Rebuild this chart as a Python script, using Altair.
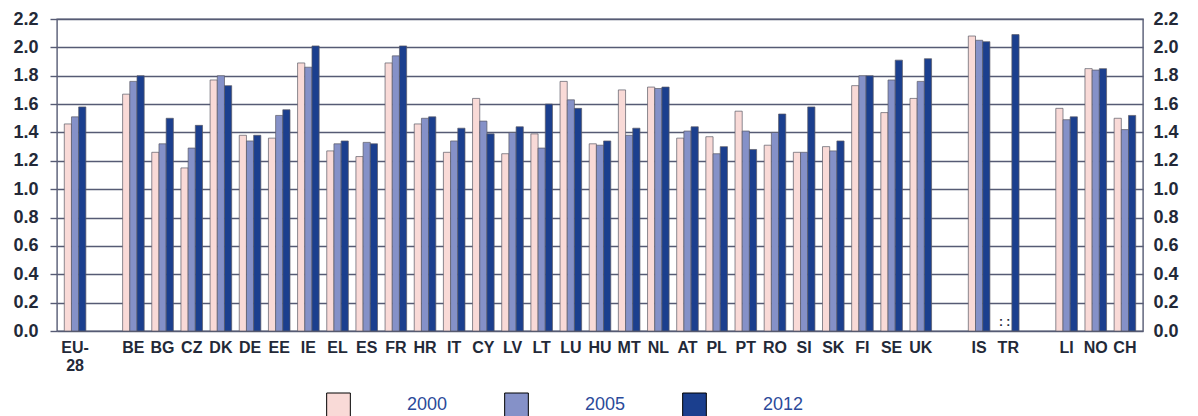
import altair as alt
import pandas as pd

countries = ["EU-28", "BE", "BG", "CZ", "DK", "DE", "EE", "IE", "EL", "ES", "FR", "HR",
             "IT", "CY", "LV", "LT", "LU", "HU", "MT", "NL", "AT", "PL", "PT", "RO",
             "SI", "SK", "FI", "SE", "UK", "IS", "TR", "LI", "NO", "CH"]

axis_order = ["EU-28", "_g1", "BE", "BG", "CZ", "DK", "DE", "EE", "IE", "EL", "ES", "FR", "HR",
              "IT", "CY", "LV", "LT", "LU", "HU", "MT", "NL", "AT", "PL", "PT", "RO",
              "SI", "SK", "FI", "SE", "UK", "_g2", "IS", "TR", "_g3", "LI", "NO", "CH"]

years = ["2000", "2005", "2012"]

v2000 = [1.46, 1.67, 1.26, 1.15, 1.77, 1.38, 1.36, 1.89, 1.27, 1.23, 1.89, 1.46,
         1.26, 1.64, 1.25, 1.39, 1.76, 1.32, 1.70, 1.72, 1.36, 1.37, 1.55, 1.31,
         1.26, 1.30, 1.73, 1.54, 1.64, 2.08, None, 1.57, 1.85, 1.50]
v2005 = [1.51, 1.76, 1.32, 1.29, 1.80, 1.34, 1.52, 1.86, 1.32, 1.33, 1.94, 1.50,
         1.34, 1.48, 1.40, 1.29, 1.63, 1.31, 1.38, 1.71, 1.41, 1.25, 1.41, 1.40,
         1.26, 1.27, 1.80, 1.77, 1.76, 2.05, None, 1.49, 1.84, 1.42]
v2012 = [1.58, 1.80, 1.50, 1.45, 1.73, 1.38, 1.56, 2.01, 1.34, 1.32, 2.01, 1.51,
         1.43, 1.39, 1.44, 1.60, 1.57, 1.34, 1.43, 1.72, 1.44, 1.30, 1.28, 1.53,
         1.58, 1.34, 1.80, 1.91, 1.92, 2.04, 2.09, 1.51, 1.85, 1.52]

colors = ["#f9dad7", "#8591c8", "#1b3f8e"]
y_ticks = [0.0, 0.2, 0.4, 0.6, 0.8, 1.0, 1.2, 1.4, 1.6, 1.8, 2.0, 2.2]

rows, missing = [], []
for series, yr in zip([v2000, v2005, v2012], years):
    for c, v in zip(countries, series):
        if v is None:
            missing.append({"country": c, "year": yr, "value": 0.0, "txt": ":"})
        else:
            rows.append({"country": c, "year": yr, "value": v})
df = pd.DataFrame(rows)
dfm = pd.DataFrame(missing)

grid_col = "#565b74"
lab_col = "#232938"

xscale = alt.Scale(domain=axis_order, paddingInner=0.26, paddingOuter=0.25)
yscale = alt.Scale(domain=[0, 2.2], nice=False)
offscale = alt.Scale(domain=years, paddingInner=0, paddingOuter=0)

x_axis = alt.Axis(
    title=None, domain=False, ticks=False, labelAngle=0,
    labelExpr="indexof(datum.value, '_') == 0 ? '' : (datum.value == 'EU-28' ? ['EU-', '28'] : datum.value)",
    labelFont="Liberation Sans", labelFontWeight=700, labelFontSize=16,
    labelColor=lab_col, labelPadding=8, labelLineHeight=18, labelBaseline="top",
)

left_axis = alt.Axis(
    title=None, values=y_ticks, format=".1f", grid=True, gridColor=grid_col,
    gridWidth=1.4, domain=False, tickSize=7, tickColor=grid_col, tickWidth=1.4,
    labelFont="Liberation Sans", labelFontWeight=700, labelFontSize=18,
    labelColor=lab_col, labelPadding=12,
)
right_axis = alt.Axis(
    title=None, values=y_ticks, format=".1f", grid=False, orient="right",
    domain=False, tickSize=0, labelAlign="left",
    labelFont="Liberation Sans", labelFontWeight=700, labelFontSize=18,
    labelColor=lab_col, labelPadding=10,
)

bars = alt.Chart(df).mark_bar(stroke="#5a5a66", strokeWidth=0.7).encode(
    x=alt.X("country:N", scale=xscale, axis=x_axis),
    xOffset=alt.XOffset("year:N", scale=offscale),
    y=alt.Y("value:Q", scale=yscale, axis=left_axis),
    color=alt.Color("year:N", scale=alt.Scale(domain=years, range=colors),
                    legend=alt.Legend(title=None)),
)

miss = alt.Chart(dfm).mark_text(fontSize=12, fontWeight="bold", color=lab_col, dy=-9,
                                font="Liberation Sans").encode(
    x=alt.X("country:N", scale=xscale, axis=x_axis),
    xOffset=alt.XOffset("year:N", scale=offscale),
    y=alt.Y("value:Q", scale=yscale, axis=None),
    text="txt:N",
)

right = alt.Chart(df).mark_point(opacity=0).encode(
    y=alt.Y("value:Q", scale=yscale, axis=right_axis),
)

chart = alt.layer(bars, miss, right).resolve_axis(y="independent").properties(
    width=1086, height=312,
    padding={"left": 49, "top": 11, "right": 47, "bottom": 100},
    autosize=alt.AutoSizeParams(type="none"),
    background="white",
).configure_view(
    stroke=grid_col, strokeWidth=1.4
).configure_legend(
    orient="none", legendX=269, legendY=373, direction="horizontal",
    symbolType="square", symbolSize=560, symbolStrokeColor="black",
    symbolStrokeWidth=1, symbolOpacity=1, labelOffset=56, columnPadding=54,
    labelFont="Liberation Sans", labelFontSize=18, labelColor="#2b4a9a",
    padding=0,
)

chart.save("out.html", embed_options={"renderer": "svg", "actions": False})
